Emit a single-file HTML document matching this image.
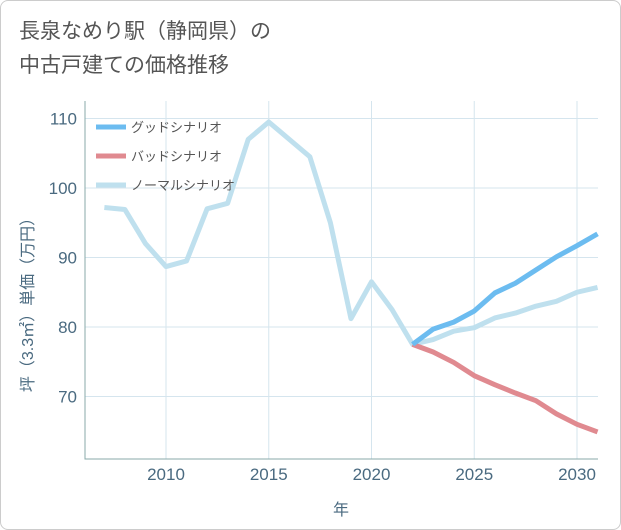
<!DOCTYPE html>
<html><head><meta charset="utf-8"><style>
body{margin:0;background:#fff;font-family:"Liberation Sans","Noto Sans CJK JP",sans-serif;}
#wrap{position:relative;width:619px;height:528px;border:1px solid #ccc;border-radius:8px;background:#fff;overflow:hidden}
.title{position:absolute;left:18px;top:14px;font-size:21px;line-height:34px;color:#555;}
</style></head><body>
<div id="wrap">
<div class="title">長泉なめり駅（静岡県）の<br>中古戸建ての価格推移</div>
<svg id="chart" width="621" height="530" style="position:absolute;left:0;top:0"></svg>
</div>
<script>
const years=[2007,2008,2009,2010,2011,2012,2013,2014,2015,2016,2017,2018,2019,2020,2021,2022,2023,2024,2025,2026,2027,2028,2029,2030,2031];
const normalVals=[97.2,96.9,92,88.7,89.5,97,97.8,107,109.5,107,104.5,95,81.2,86.5,82.5,77.5,78.2,79.4,79.9,81.3,82,83,83.7,85,85.7];
const futureYears=[2022,2023,2024,2025,2026,2027,2028,2029,2030,2031];
const goodVals=[77.5,79.7,80.7,82.3,84.9,86.3,88.2,90.1,91.7,93.4];
const badVals=[77.5,76.4,74.9,73,71.7,70.5,69.4,67.5,66,64.9];
const xTicks=[2010,2015,2020,2025,2030];
const yTicks=[70,80,90,100,110];
const legendLabels=["グッドシナリオ","バッドシナリオ","ノーマルシナリオ"];
const legendColors=["#6cbcf0","#e08a90","#bfe0ee"];

const L=84,R=597,T=100,B=458;
const x=v=>165+(v-2010)*20.55;
const y=v=>187-(v-100)*6.95;
const svg=document.getElementById('chart');
const NS='http://www.w3.org/2000/svg';
function mk(t,a){const e=document.createElementNS(NS,t);for(const k in a)e.setAttribute(k,a[k]);svg.appendChild(e);return e;}

for(const t of xTicks){const l=mk('line',{x1:x(t),x2:x(t),y1:T,y2:B,stroke:'#d5e5ee','stroke-width':1});


const tx=mk('text',{x:x(t),y:B+21,'text-anchor':'middle','font-size':17,fill:'#4a6a80'});tx.textContent=t;

}
for(const t of yTicks){const l=mk('line',{x1:L,x2:R,y1:y(t),y2:y(t),stroke:'#d5e5ee','stroke-width':1});


const tx=mk('text',{x:L-8,y:y(t)+6,'text-anchor':'end','font-size':17,fill:'#4a6a80'});tx.textContent=t;

}
const ax=mk('path',{d:`M${L} ${T}V${B}H${R}`,stroke:'#8aa',fill:'none','stroke-width':1});



function line(xs,vs,c,name){const p=mk('polyline',{points:xs.map((v,i)=>x(v)+','+y(vs[i])).join(' '),fill:'none',stroke:c,'stroke-width':5,'stroke-linejoin':'round'});

}
line(years,normalVals,legendColors[2],'normal-line');
line(futureYears,badVals,legendColors[1],'bad-line');
line(futureYears,goodVals,legendColors[0],'good-line');

legendLabels.forEach((lb,i)=>{const yy=126+i*29;
const l=mk('line',{x1:95,x2:125,y1:yy,y2:yy,stroke:legendColors[i],'stroke-width':5});


const t=mk('text',{x:130,y:yy+5,'font-size':13,fill:'#555'});t.textContent=lb;

});

const xt=mk('text',{x:340,y:514,'text-anchor':'middle','font-size':16,fill:'#4a6a80'});xt.textContent='年';


const yt=mk('text',{x:0,y:0,'text-anchor':'middle','font-size':16,fill:'#4a6a80',transform:'translate(32,300) rotate(-90)'});yt.textContent='坪（3.3㎡）単価（万円）';


</script>
</body></html>
